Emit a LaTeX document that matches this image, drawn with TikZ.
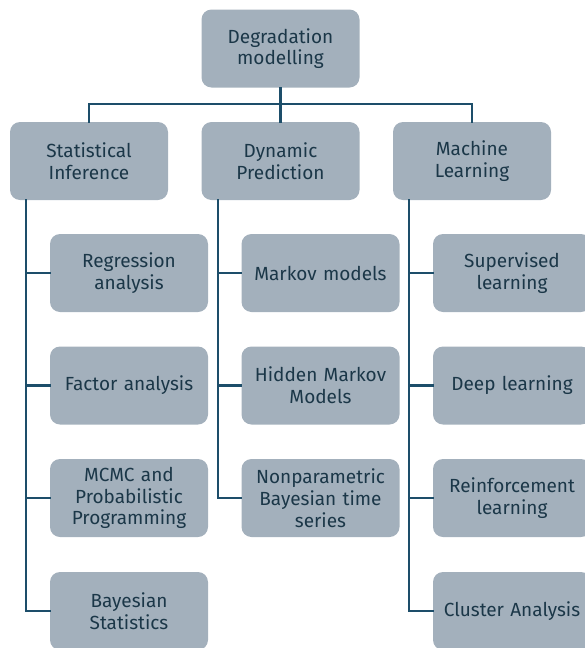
\documentclass[tikz,border=0pt]{standalone}
\usepackage{fontspec}
\setmainfont{Fira Sans}
\definecolor{boxfill}{HTML}{A3B0BC}
\definecolor{boxtext}{HTML}{1B3748}
\definecolor{linkcol}{HTML}{1D4E6A}
\begin{document}
\begin{tikzpicture}[
	x=1pt,y=-1pt,
	line cap=rect,
	line join=miter,
	box/.style={rectangle,rounded corners=10pt,fill=boxfill,text=boxtext,
		minimum width=158pt,minimum height=78pt,inner xsep=2pt,text width=152pt,align=center,
		font=\fontsize{19}{21.7}\selectfont},
	link/.style={draw=linkcol,line width=2.3pt}
	]
	\useasboundingbox (0,0) rectangle (585,648);
	\clip (0,0) rectangle (585,648);
	% top level
	\node[box] (top) at (280.5,48.5) {Degradation\\modelling};
	\node[box] (stat) at (89,161) {Statistical\\Inference};
	\node[box] (dyn) at (280.5,161) {Dynamic\\Prediction};
	\node[box] (mach) at (472,161) {Machine\\Learning};
	% statistical inference
	\node[box] (reg) at (129,273) {Regression\\analysis};
	\node[box] (fac) at (129,385.5) {Factor analysis};
	\node[box] (mcmc) at (129,498) {MCMC and\\Probabilistic\\Programming};
	\node[box] (bayes) at (129,611) {Bayesian\\Statistics};
	% dynamic prediction
	\node[box] (markov) at (320.5,273) {Markov models};
	\node[box] (hmm) at (320.5,385.5) {Hidden Markov\\Models};
	\node[box] (npbayes) at (320.5,498) {Nonparametric\\Bayesian time\\series};
	% machine learning
	\node[box] (sup) at (512,273) {Supervised\\learning};
	\node[box] (deep) at (512,385.5) {Deep learning};
	\node[box] (reinf) at (512,498) {Reinforcement\\learning};
	\node[box] (clus) at (512,611) {Cluster Analysis};
	% connectors
	\coordinate (bar) at (280.5,104);
	\coordinate (tA) at (26,200);
	\coordinate (tB) at (218,200);
	\coordinate (tC) at (409,200);
	\begin{scope}[link]
		\draw (top.south) -- (dyn.north);
		\draw (stat.north) |- (bar) -| (mach.north);
		\draw (tA) |- (reg.west);
		\draw (tA) |- (fac.west);
		\draw (tA) |- (mcmc.west);
		\draw (tA) |- (bayes.west);
		\draw (tB) |- (markov.west);
		\draw (tB) |- (hmm.west);
		\draw (tB) |- (npbayes.west);
		\draw (tC) |- (sup.west);
		\draw (tC) |- (deep.west);
		\draw (tC) |- (reinf.west);
		\draw (tC) |- (clus.west);
	\end{scope}
\end{tikzpicture}
\end{document}
